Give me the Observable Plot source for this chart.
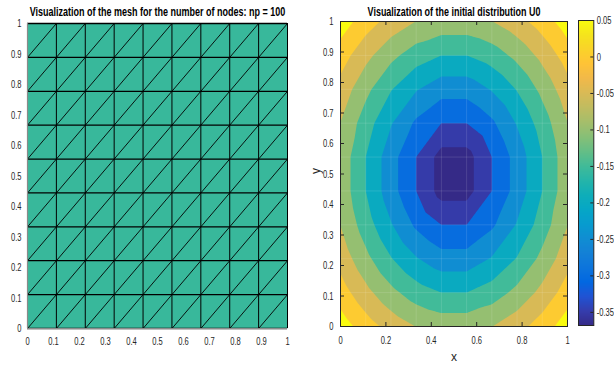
<!DOCTYPE html>
<html>
<head>
<meta charset="utf-8">
<script src="https://cdn.jsdelivr.net/npm/d3@7"></script>
<script src="https://cdn.jsdelivr.net/npm/@observablehq/plot@0.6"></script>
<style>
  html, body { margin: 0; padding: 0; background: #fff; }
  #chart { position: relative; width: 614px; height: 366px; overflow: hidden; background: #fff; }
  #chart svg { position: absolute; top: 0; }
</style>
</head>
<body>
<div id="chart"></div>
<script>
// ---------- data ----------
const leftTitle = "Visualization of the mesh for the number of nodes: np = 100";
const rightTitle = "Visualization of the initial distribution U0";
const xLabel = "x";
const yLabel = "y";

// mesh node coordinates (10 x 10 nodes, np = 100)
const nodes = [0, 1/9, 2/9, 3/9, 4/9, 5/9, 6/9, 7/9, 8/9, 1];

const meshTicks = [0, 0.1, 0.2, 0.3, 0.4, 0.5, 0.6, 0.7, 0.8, 0.9, 1];
const contourXTicks = [0, 0.2, 0.4, 0.6, 0.8, 1];
const contourYTicks = [0, 0.1, 0.2, 0.3, 0.4, 0.5, 0.6, 0.7, 0.8, 0.9, 1];
const colorbarTicks = [0.05, 0, -0.05, -0.1, -0.15, -0.2, -0.25, -0.3, -0.35];
const levels = [-0.35, -0.3, -0.25, -0.2, -0.15, -0.1, -0.05, 0, 0.05];
const colorLimits = [-0.368, 0.05];

// U0 at the mesh nodes, rows from y = 0 (first) to y = 1 (last)
const U0 = [
  [ 0.077,  0.024, -0.019, -0.051, -0.067, -0.067, -0.051, -0.019,  0.024,  0.077],
  [ 0.024, -0.035, -0.086, -0.126, -0.150, -0.150, -0.126, -0.086, -0.035,  0.024],
  [-0.019, -0.086, -0.147, -0.196, -0.230, -0.230, -0.196, -0.147, -0.086, -0.019],
  [-0.051, -0.126, -0.196, -0.259, -0.300, -0.300, -0.259, -0.196, -0.126, -0.051],
  [-0.067, -0.150, -0.230, -0.300, -0.370, -0.370, -0.300, -0.230, -0.150, -0.067],
  [-0.067, -0.150, -0.230, -0.300, -0.370, -0.370, -0.300, -0.230, -0.150, -0.067],
  [-0.051, -0.126, -0.196, -0.259, -0.300, -0.300, -0.259, -0.196, -0.126, -0.051],
  [-0.019, -0.086, -0.147, -0.196, -0.230, -0.230, -0.196, -0.147, -0.086, -0.019],
  [ 0.024, -0.035, -0.086, -0.126, -0.150, -0.150, -0.126, -0.086, -0.035,  0.024],
  [ 0.077,  0.024, -0.019, -0.051, -0.067, -0.067, -0.051, -0.019,  0.024,  0.077]
];

// parula colormap
const parula = ["#352a87","#353dad","#2053d4","#0268e1","#0d75dc","#1481d6","#108ed2","#079ccf",
  "#06a7c6","#0faeb9","#25b5a9","#42bb98","#65be86","#87bf77","#a5be6b","#c0bc60",
  "#d9ba56","#f1b94a","#ffc337","#fad32a","#f5e41d","#f9fb0e"];
const meshFill = "#38b89b";

// ---------- derived tables ----------
const points = U0.flatMap((row, j) => row.map((u, i) => ({x: nodes[i], y: nodes[j], u})));
const cells = [];
for (let j = 0; j < nodes.length - 1; ++j)
  for (let i = 0; i < nodes.length - 1; ++i)
    cells.push({x1: nodes[i], y1: nodes[j], x2: nodes[i + 1], y2: nodes[j + 1]});

const FONT = '"Liberation Sans Narrow", "Liberation Sans", Arial, sans-serif';
const fmt = (d) => String(d);
const ink = "#262626";
const parulaInterp = d3.piecewise(d3.interpolateRgb, parula);
const colorScale = {type: "linear", domain: colorLimits, interpolate: parulaInterp, clamp: true};

// piecewise-linear interpolation on the "/" triangulation of the regular mesh
function meshInterpolate(index, width, height, X, Y, V) {
  const idx = Array.from(index);
  const xs = Array.from(new Set(idx.map((i) => X[i]))).sort((a, b) => a - b);
  const ys = Array.from(new Set(idx.map((i) => Y[i]))).sort((a, b) => a - b);
  const G = ys.map(() => new Array(xs.length).fill(NaN));
  for (const i of idx) G[ys.indexOf(Y[i])][xs.indexOf(X[i])] = V[i];
  const find = (arr, v) => Math.max(0, Math.min(arr.length - 2, d3.bisectRight(arr, v) - 1));
  const W = new Float64Array(width * height);
  for (let py = 0; py < height; ++py) {
    const yy = py + 0.5;
    const r = find(ys, yy);
    const t = Math.max(0, Math.min(1, (ys[r + 1] - yy) / (ys[r + 1] - ys[r])));
    for (let px = 0; px < width; ++px) {
      const xx = px + 0.5;
      const c = find(xs, xx);
      const s = Math.max(0, Math.min(1, (xx - xs[c]) / (xs[c + 1] - xs[c])));
      const BL = G[r + 1][c], BR = G[r + 1][c + 1], TL = G[r][c], TR = G[r][c + 1];
      W[py * width + px] = s >= t ? BL + s * (BR - BL) + t * (TR - BR) : BL + t * (TL - BL) + s * (TR - TL);
    }
  }
  return W;
}

const baseStyle = {fontFamily: FONT, fontSize: "11px", color: ink, background: "transparent", overflow: "visible"};

// ---------- left: mesh ----------
const left = Plot.plot({
  width: 300, height: 366,
  marginLeft: 27, marginRight: 13, marginTop: 23, marginBottom: 38,
  style: baseStyle,
  x: {domain: [0, 1], ticks: meshTicks, tickFormat: fmt, tickSize: 0, tickPadding: 9, label: null},
  y: {domain: [0, 1], ticks: meshTicks, tickFormat: fmt, tickSize: 0, tickPadding: 6, label: null},
  marks: [
    Plot.frame({fill: meshFill}),
    Plot.link(cells, {x1: "x1", y1: "y1", x2: "x2", y2: "y2", stroke: "#000", strokeWidth: 0.9}),
    Plot.ruleX(nodes, {stroke: "#000", strokeWidth: 1}),
    Plot.ruleY(nodes, {stroke: "#000", strokeWidth: 1.3}),
    Plot.ruleX([nodes[0]], {stroke: "#8a8a8a", strokeWidth: 1.2}),
    Plot.ruleY([nodes[0]], {stroke: "#8a8a8a", strokeWidth: 1.2}),
    Plot.text([leftTitle], {text: (d) => d, frameAnchor: "top", lineAnchor: "bottom", dy: -7.5,
      fontWeight: "bold", fontSize: 12.5, fill: "#000"})
  ]
});
left.style.left = "0px";

// ---------- right: contour ----------
const RW = 227, RH = 305;
const right = Plot.plot({
  width: 280, height: 366,
  marginLeft: 40, marginRight: 13, marginTop: 21, marginBottom: 40,
  style: baseStyle,
  x: {domain: [0, 1], ticks: contourXTicks, tickFormat: fmt, tickSize: 0, tickPadding: 10, label: null},
  y: {domain: [0, 1], ticks: contourYTicks, tickFormat: fmt, tickSize: 0, tickPadding: 7, label: null},
  color: colorScale,
  marks: [
    Plot.contour(points, {x: "x", y: "y", fill: "u", stroke: "none",
      thresholds: [d3.min(points, (d) => d.u) - 0.01, ...levels],
      interpolate: meshInterpolate, pixelSize: 1}),
    Plot.ruleX(nodes.slice(1, -1), {stroke: "#fff", strokeOpacity: 0.12}),
    Plot.ruleY(nodes.slice(1, -1), {stroke: "#fff", strokeOpacity: 0.12}),
    Plot.frame({stroke: ink}),
    Plot.tickX(contourXTicks, {insetTop: RH - 4, stroke: ink}),
    Plot.tickX(contourXTicks, {insetBottom: RH - 4, stroke: ink}),
    Plot.tickY(contourYTicks, {insetRight: RW - 4, stroke: ink}),
    Plot.tickY(contourYTicks, {insetLeft: RW - 4, stroke: ink}),
    Plot.text([rightTitle], {text: (d) => d, frameAnchor: "top", lineAnchor: "bottom", dy: -6,
      fontWeight: "bold", fontSize: 12.5, fill: "#000"}),
    Plot.text([xLabel], {text: (d) => d, frameAnchor: "bottom", lineAnchor: "middle", dy: 31, fontSize: 12, fill: ink}),
    Plot.text([yLabel], {text: (d) => d, frameAnchor: "left", lineAnchor: "middle", dx: -24, rotate: -90, fontSize: 12, fill: ink})
  ]
});
right.style.left = "300px";

// ---------- colorbar ----------
const CBW = 15.3;
const cbar = Plot.plot({
  width: 44, height: 366,
  marginLeft: 8, marginRight: 20.7, marginTop: 20, marginBottom: 41,
  style: baseStyle,
  x: {domain: [0, 1], axis: null},
  y: {domain: colorLimits, ticks: colorbarTicks, tickFormat: fmt, tickSize: 0, tickPadding: 3, axis: "right", label: null},
  color: colorScale,
  marks: [
    Plot.raster({fill: (x, y) => y, x1: 0, x2: 1, y1: colorLimits[0], y2: colorLimits[1], pixelSize: 1}),
    Plot.frame({stroke: ink}),
    Plot.tickY(colorbarTicks, {insetLeft: CBW - 3, stroke: ink})
  ]
});
cbar.style.left = "570px";

const chart = document.getElementById("chart");
chart.append(left, right, cbar);

// ---------- narrow the text like the reference (horizontal scale about each anchor) ----------
function measure(svg, str, size, weight) {
  const t = document.createElementNS("http://www.w3.org/2000/svg", "text");
  t.setAttribute("font-family", FONT);
  t.setAttribute("font-size", size);
  if (weight) t.setAttribute("font-weight", weight);
  t.textContent = str;
  svg.appendChild(t);
  const w = t.getComputedTextLength();
  t.remove();
  return w;
}
function squeeze(t, sx) {
  const tr = t.getAttribute("transform") || "";
  t.setAttribute("transform", `${tr} scale(${sx.toFixed(4)},1)`);
}
const tickFactor = 10.5 / measure(left, "0.2", 11);
for (const svg of [left, right, cbar]) {
  svg.querySelectorAll('g[aria-label$="tick label"] text').forEach((t) => squeeze(t, tickFactor));
  svg.querySelectorAll("text").forEach((t) => {
    if (t.textContent === leftTitle) squeeze(t, 256 / t.getComputedTextLength());
    if (t.textContent === rightTitle) squeeze(t, 173 / t.getComputedTextLength());
  });
}
</script>
</body>
</html>
